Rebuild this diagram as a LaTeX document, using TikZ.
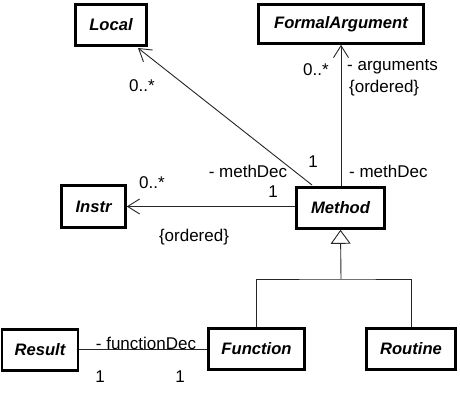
\documentclass[tikz,border=0pt]{standalone}
\usepackage{fontspec}
\setmainfont{Liberation Sans}
\usetikzlibrary{arrows.meta}
\tikzset{
  cls/.style={draw, line width=2.6pt, inner sep=0pt, font=\fontsize{16.6}{19}\selectfont\bfseries\itshape},
  lbl/.style={inner sep=0pt, font=\fontsize{17}{20}\selectfont},
  conn/.style={line width=0.9pt, draw=black!85},
  nav/.style={conn, -{Straight Barb[length=12pt,width=15pt,line width=0.9pt]}},
  gen/.style={conn, -{Triangle[open,length=14pt,width=20pt,line width=0.9pt]}}
}
\begin{document}
\begin{tikzpicture}[x=1pt,y=-1pt]
\useasboundingbox[fill=white] (0,0) rectangle (460,411);
% classes
\node[cls, minimum width=71pt, minimum height=41pt] (Local) at (111,25) {Local};
\node[cls, minimum width=165pt, minimum height=39pt] (FA) at (341,24) {FormalArgument};
\node[cls, minimum width=88pt, minimum height=41pt] (Method) at (340.5,208) {Method};
\node[cls, minimum width=64pt, minimum height=42pt] (Instr) at (93.5,206.5) {Instr};
\node[cls, minimum width=96pt, minimum height=41pt] (Function) at (256.5,349) {Function};
\node[cls, minimum width=89pt, minimum height=41pt] (Routine) at (411,349) {Routine};
\node[cls, minimum width=76pt, minimum height=41pt] (Result) at (40,350) {Result};
% helper coordinates
\coordinate (mlt) at (312,185);
\coordinate (ltip) at (138,48);
\coordinate (g) at (341,279);
% associations
\draw[nav] (mlt) -- (ltip);
\draw[nav] (Method.north -| FA.south) -- (FA.south);
\draw[nav] (Method.west |- Instr.east) -- (Instr.east);
\draw[conn] (Result.east |- Function.west) -- (Function.west);
% generalization
\draw[conn] (Function.north) |- (g) -| (Routine.north);
\draw[gen] (g) -- (Method.south);
% labels
\node[lbl] (l1) at (142,86) {0..*};
\node[lbl] (l2) at (248,171) {- methDec};
\node[lbl] (l3) at (313,162) {1};
\node[lbl] (l4) at (273,192) {1};
\node[lbl] (l5) at (152,183) {0..*};
\node[lbl] (l6) at (194,237) {\{ordered\}};
\node[lbl] (l7) at (316,70) {0..*};
\node[lbl, anchor=west] (l8) at (347,67) {- arguments};
\node[lbl, anchor=west] (l9) at (349,88) {\{ordered\}};
\node[lbl, anchor=west] (l10) at (349,171) {- methDec};
\node[lbl] (l11) at (146,343) {- functionDec};
\node[lbl] (l12) at (100,377) {1};
\node[lbl] (l13) at (180,377) {1};
\end{tikzpicture}
\end{document}
